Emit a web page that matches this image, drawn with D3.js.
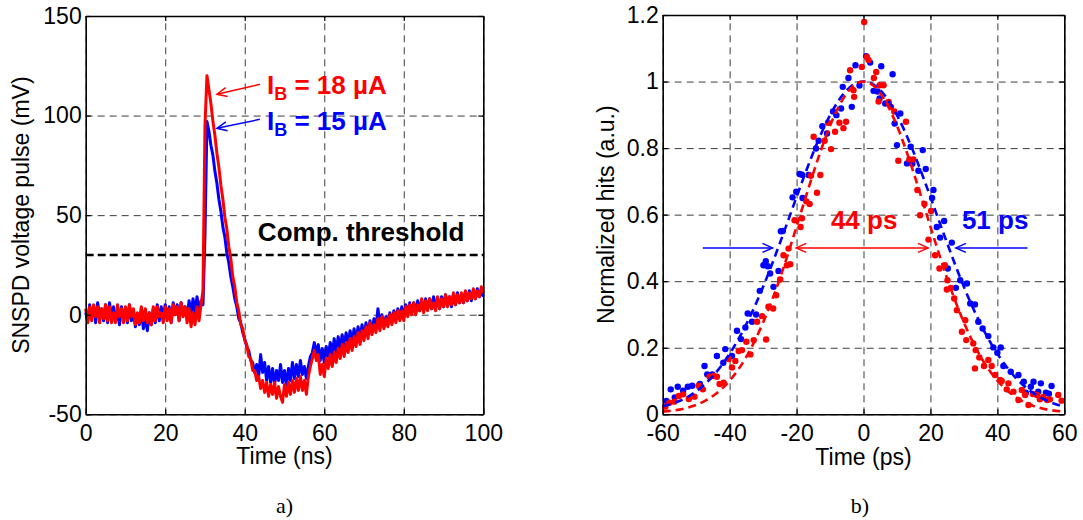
<!DOCTYPE html>
<html>
<head>
<meta charset="utf-8">
<script src="https://cdn.jsdelivr.net/npm/d3@7"></script>
<style>
  html, body { margin: 0; padding: 0; background: #fff; }
  svg { display: block; }
</style>
</head>
<body>
<svg id="chart" width="1083" height="520"></svg>
<script>
// ---------- panel a) : SNSPD voltage pulse, one sample every 0.5 ns from 0 ns ----------
const pulseTimeStep = 0.5;
const pulse15uA = [
  1, -3, 5, -1, 4, -4, 6, 0, 3, -3,
  5, -4, 6, -2, 4, -3, 1, -5, 4, -1,
  3, -4, 5, -3, 1, -6, 0, -5, 3, -7,
  -1, -8, 1, -5, 3, -4, 5, -3, 4, -1,
  5, -2, 4, -4, 6, 0, 5, -3, 6, 1,
  4, -1, 7, 0, 8, 1, 9, 2, 7, 5,
  40, 97, 92, 85, 80, 72, 66, 58, 52, 44,
  39, 31, 26, 19, 14, 8, 4, -2, -4, -9,
  -12, -16, -18, -23, -24, -29, -25, -31, -20, -29,
  -24, -33, -26, -34, -27, -35, -28, -33, -25, -34,
  -28, -36, -27, -33, -24, -32, -25, -31, -23, -30,
  -26, -32, -26, -21, -19, -14, -20, -15, -23, -17,
  -24, -16, -21, -14, -20, -12, -19, -11, -17, -10,
  -16, -9, -15, -8, -14, -7, -13, -6, -12, -5,
  -11, -4, -10, -3, -9, -2, -7, 3, -5, 0,
  -6, -1, -5, 1, -4, 2, -2, 3, -2, 4,
  -1, 5, 0, 6, 1, 6, 1, 7, 2, 7,
  2, 8, 3, 8, 3, 9, 4, 8, 3, 9,
  4, 10, 5, 9, 4, 10, 5, 11, 6, 10,
  6, 11, 7, 12, 7, 12, 8, 13, 9, 12,
  9
];
const pulse18uA = [
  3, -4, 4, -3, 5, -1, 4, -4, 3, -2,
  5, -3, 4, -4, 1, -4, 5, -1, 3, -4,
  4, -3, 5, -1, 3, -5, 1, -4, 4, -3,
  3, -4, 1, -5, 4, -3, 4, -1, 1, -4,
  4, -3, 3, -4, 5, 0, 4, -3, 6, -1,
  4, -4, 3, -6, 1, -5, 4, -3, 5, 12,
  95, 120, 113, 106, 97, 90, 81, 74, 65, 58,
  49, 43, 34, 28, 19, 14, 6, 2, -5, -7,
  -13, -15, -21, -22, -28, -28, -33, -31, -37, -33,
  -39, -34, -41, -35, -40, -34, -42, -36, -41, -44,
  -35, -41, -34, -40, -33, -39, -32, -38, -31, -38,
  -33, -40, -31, -26, -22, -18, -23, -20, -30, -25,
  -31, -22, -27, -20, -26, -19, -24, -17, -22, -15,
  -21, -14, -19, -12, -18, -11, -16, -9, -15, -8,
  -13, -6, -12, -4, -10, -5, -9, -2, -8, -1,
  -7, -2, -6, 0, -5, 1, -4, 2, -3, 2,
  -3, 4, -1, 5, 0, 6, 0, 5, 2, 8,
  1, 7, 2, 8, 3, 6, 2, 9, 3, 8,
  4, 10, 4, 9, 5, 11, 5, 10, 6, 11,
  6, 12, 7, 11, 8, 13, 8, 12, 9, 14,
  11
];
const thresholdMv = 30;
const pulseTicksX = [0, 20, 40, 60, 80, 100];
const pulseTicksY = [-50, 0, 50, 100, 150];

// ---------- panel b) : timing jitter histograms ----------
const hitsTime15uA = [
  -58.9, -57.6, -56.4, -55.5, -53.9, -52.5, -51.2, -48.9, -47.5, -46.7,
  -45.2, -43.8, -41.9, -41.3, -39.3, -37.8, -36.6, -35.3, -34.6, -33.3,
  -32.1, -31.0, -29.9, -29.2, -28.6, -27.9, -26.9, -25.4, -24.7, -24.1,
  -21.2, -20.1, -19.1, -18.4, -18.2, -16.4, -14.2, -13.4, -12.3, -10.9,
  -9.1, -8.1, -6.7, -6.2, -4.5, -3.5, -2.4, -1.2, 0.8, 2.0,
  3.0, 4.2, 4.8, 5.3, 6.5, 8.7, 9.3, 10.0, 11.0, 13.0,
  14.1, 14.6, 16.4, 17.7, 18.6, 20.5, 20.9, 21.9, 22.9, 24.1,
  25.2, 26.4, 27.6, 28.9, 30.9, 31.9, 33.3, 34.3, 35.6, 37.3,
  38.8, 40.0, 41.0, 41.8, 44.0, 46.3, 47.9, 48.5, 50.0, 50.8,
  52.2, 53.0, 54.5, 55.4, 56.2
];
const hits15uA = [
  0.040, 0.075, 0.051, 0.083, 0.071, 0.083, 0.086, 0.091, 0.145, 0.120,
  0.120, 0.175, 0.155, 0.196, 0.175, 0.251, 0.226, 0.261, 0.303, 0.278,
  0.300, 0.371, 0.448, 0.460, 0.445, 0.423, 0.383, 0.431, 0.550, 0.551,
  0.652, 0.669, 0.722, 0.720, 0.650, 0.719, 0.799, 0.822, 0.866, 0.844,
  0.910, 0.899, 0.919, 0.984, 1.011, 0.924, 1.049, 0.988, 1.076, 1.057,
  0.972, 0.970, 0.949, 1.046, 0.934, 1.022, 0.874, 0.809, 0.904, 0.754,
  0.804, 0.753, 0.732, 0.794, 0.737, 0.650, 0.674, 0.563, 0.531, 0.581,
  0.438, 0.516, 0.380, 0.403, 0.393, 0.333, 0.330, 0.278, 0.258, 0.235,
  0.201, 0.185, 0.201, 0.145, 0.128, 0.118, 0.098, 0.065, 0.083, 0.098,
  0.068, 0.093, 0.065, 0.062, 0.085
];
const hitsTime18uA = [
  -59.2, -58.0, -56.5, -55.2, -53.9, -52.2, -50.5, -49.3, -48.0, -46.0,
  -44.8, -43.8, -43.0, -41.8, -40.3, -39.3, -38.3, -37.3, -36.3, -35.0,
  -33.8, -32.8, -31.8, -30.3, -29.1, -28.4, -27.0, -26.1, -24.9, -23.9,
  -22.9, -22.4, -21.9, -20.6, -18.8, -18.4, -17.1, -16.1, -15.7, -14.9,
  -13.9, -12.9, -11.6, -10.6, -9.7, -8.5, -7.2, -6.0, -5.2, -4.0,
  -3.0, -2.8, -0.5, 0.2, 1.0, 1.5, 3.1, 3.8, 4.5, 4.8,
  6.0, 7.5, 8.2, 9.2, 10.4, 12.7, 13.7, 14.9, 16.1, 16.9,
  18.2, 19.4, 20.2, 21.4, 22.7, 24.3, 24.9, 25.1, 26.1, 27.1,
  27.9, 29.4, 30.4, 30.7, 32.8, 33.3, 33.5, 34.6, 36.0, 37.3,
  38.3, 39.3, 40.8, 41.3, 42.8, 43.3, 44.8, 46.3, 47.3, 48.3,
  49.3, 50.6, 51.8, 52.7, 53.7, 54.9, 55.7, 58.2, 59.2
];
const hits18uA = [
  0.023, 0.035, 0.038, 0.055, 0.060, 0.046, 0.053, 0.086, 0.075, 0.113,
  0.115, 0.113, 0.091, 0.095, 0.166, 0.141, 0.160, 0.190, 0.193, 0.218,
  0.180, 0.223, 0.278, 0.295, 0.225, 0.323, 0.318, 0.358, 0.405, 0.478,
  0.448, 0.498, 0.451, 0.583, 0.563, 0.589, 0.640, 0.632, 0.717, 0.834,
  0.666, 0.719, 0.822, 0.876, 0.797, 0.849, 0.876, 0.860, 0.879, 1.034,
  0.974, 0.954, 1.044, 1.179, 1.074, 1.065, 1.011, 1.029, 0.940, 0.989,
  0.989, 0.939, 0.924, 0.910, 0.762, 0.879, 0.766, 0.766, 0.674, 0.598,
  0.632, 0.525, 0.611, 0.478, 0.438, 0.448, 0.375, 0.403, 0.380, 0.348,
  0.313, 0.248, 0.283, 0.223, 0.213, 0.138, 0.193, 0.171, 0.145, 0.163,
  0.145, 0.118, 0.103, 0.100, 0.075, 0.093, 0.068, 0.043, 0.073, 0.058,
  0.028, 0.061, 0.058, 0.045, 0.052, 0.043, 0.045, 0.058, 0.041
];
// dashed fits, read every 5 ps
const fitTime = [-60, -55, -50, -45, -40, -35, -30, -25, -20, -15, -10, -5, 0,
                 5, 10, 15, 20, 25, 30, 35, 40, 45, 50, 55, 60];
const fit15uA = [0.024, 0.040, 0.069, 0.115, 0.182, 0.271, 0.383, 0.514, 0.653, 0.787, 0.899, 0.974, 1.0,
                 0.974, 0.899, 0.787, 0.653, 0.514, 0.383, 0.271, 0.182, 0.115, 0.069, 0.040, 0.022];
const fit18uA = [0.008, 0.014, 0.028, 0.055, 0.101, 0.173, 0.276, 0.408, 0.564, 0.725, 0.867, 0.965, 1.0,
                 0.965, 0.867, 0.725, 0.564, 0.408, 0.276, 0.173, 0.101, 0.055, 0.028, 0.014, 0.008];
const jitterTicksX = [-60, -40, -20, 0, 20, 40, 60];
const jitterTicksY = [0, 0.2, 0.4, 0.6, 0.8, 1, 1.2];

// ---------- drawing ----------
const FONT = '"Liberation Sans", Arial, Helvetica, sans-serif';
const SERIF = '"Liberation Serif", "Times New Roman", serif';
const BLUE = "#0000ff";
const RED = "#ff0000";
const svg = d3.select("#chart");

// dashed grid behind the data
function drawGrid(g, x, y, xTicks, yTicks) {
  const [x0, x1] = x.range();
  const [yb, yt] = y.range();

  const grid = g.append("g").attr("class", "grid");
  grid.append("g").attr("transform", `translate(0,${yb})`)
    .call(d3.axisBottom(x).tickValues(xTicks).tickSize(-(yb - yt)).tickFormat(""));
  grid.append("g").attr("transform", `translate(${x0},0)`)
    .call(d3.axisLeft(y).tickValues(yTicks).tickSize(-(x1 - x0)).tickFormat(""));
  grid.selectAll(".domain").remove();
  grid.selectAll("line")
    .attr("stroke", "#3c3c3c")
    .attr("stroke-width", 1)
    .attr("stroke-dasharray", "7,5");
}

// box with inward ticks on all four sides, labels bottom and left
function drawAxes(g, x, y, xTicks, yTicks) {
  const [x0, x1] = x.range();
  const [yb, yt] = y.range();
  const fmt = (d) => String(d);

  const axes = [
    g.append("g").attr("transform", `translate(0,${yb})`)
      .call(d3.axisBottom(x).tickValues(xTicks).tickSizeInner(-5).tickSizeOuter(0).tickPadding(10).tickFormat(fmt)),
    g.append("g").attr("transform", `translate(0,${yt})`)
      .call(d3.axisTop(x).tickValues(xTicks).tickSizeInner(-5).tickSizeOuter(0).tickFormat("")),
    g.append("g").attr("transform", `translate(${x0},0)`)
      .call(d3.axisLeft(y).tickValues(yTicks).tickSizeInner(-5).tickSizeOuter(0).tickPadding(4).tickFormat(fmt)),
    g.append("g").attr("transform", `translate(${x1},0)`)
      .call(d3.axisRight(y).tickValues(yTicks).tickSizeInner(-5).tickSizeOuter(0).tickFormat("")),
  ];
  axes.forEach((a) => {
    a.attr("font-family", FONT).attr("font-size", 23);
    a.select(".domain").attr("stroke", "#000").attr("stroke-width", 1.6);
    a.selectAll(".tick line").attr("stroke", "#000").attr("stroke-width", 1.2);
    a.selectAll(".tick text").attr("fill", "#000");
  });
}

function arrowHead(g, tx, ty, fx, fy, color) {
  const ang = Math.atan2(ty - fy, tx - fx);
  const L = 10, W = 4.5;
  const ux = Math.cos(ang), uy = Math.sin(ang);
  const p1 = [tx - ux * L - uy * W, ty - uy * L + ux * W];
  const p2 = [tx - ux * L + uy * W, ty - uy * L - ux * W];
  g.append("path")
    .attr("d", `M${p1[0]},${p1[1]}L${tx},${ty}L${p2[0]},${p2[1]}`)
    .attr("fill", "none").attr("stroke", color).attr("stroke-width", 1.5);
}

function arrow(g, fx, fy, tx, ty, color, both) {
  g.append("line")
    .attr("x1", fx).attr("y1", fy).attr("x2", tx).attr("y2", ty)
    .attr("stroke", color).attr("stroke-width", 1.5);
  arrowHead(g, tx, ty, fx, fy, color);
  if (both) arrowHead(g, fx, fy, tx, ty, color);
}

// ----- panel a -----
const xA = d3.scaleLinear().domain([0, 100]).range([85.7, 483.3]);
const yA = d3.scaleLinear().domain([-50, 150]).range([414.3, 16]);
const gA = svg.append("g");
drawGrid(gA, xA, yA, pulseTicksX, pulseTicksY);

gA.append("line")
  .attr("x1", xA(0)).attr("x2", xA(100))
  .attr("y1", yA(thresholdMv)).attr("y2", yA(thresholdMv))
  .attr("stroke", "#000").attr("stroke-width", 2.6).attr("stroke-dasharray", "8,4");

const pulseLine = d3.line()
  .x((d, i) => xA(i * pulseTimeStep))
  .y((d) => yA(d));

gA.append("path").datum(pulse15uA).attr("d", pulseLine)
  .attr("fill", "none").attr("stroke", BLUE).attr("stroke-width", 3).attr("stroke-linejoin", "round");
gA.append("path").datum(pulse18uA).attr("d", pulseLine)
  .attr("fill", "none").attr("stroke", RED).attr("stroke-width", 3).attr("stroke-linejoin", "round");

drawAxes(gA, xA, yA, pulseTicksX, pulseTicksY);

gA.append("text").attr("x", xA(43.3)).attr("y", yA(36.8))
  .attr("font-family", FONT).attr("font-size", 26).attr("font-weight", "bold")
  .text("Comp. threshold");

function biasLabel(tx, ty, value, color) {
  const t = gA.append("text").attr("x", xA(tx)).attr("y", yA(ty))
    .attr("font-family", FONT).attr("font-size", 26).attr("font-weight", "bold").attr("fill", color);
  t.append("tspan").text("I");
  t.append("tspan").attr("font-size", 18).attr("dy", 6).text("B");
  t.append("tspan").attr("dy", -6).text(` = ${value} \u00b5A`);
}
biasLabel(45.6, 111, 18, RED);
biasLabel(45.6, 93, 15, BLUE);
arrow(gA, xA(43.8), yA(115.7), xA(33.0), yA(110.7), RED, false);
arrow(gA, xA(43.8), yA(98.1), xA(33.0), yA(93.6), BLUE, false);

gA.append("text").attr("x", xA(50)).attr("y", 464)
  .attr("text-anchor", "middle").attr("font-family", FONT).attr("font-size", 23)
  .text("Time (ns)");
gA.append("text").attr("transform", `translate(29,${(yA(-50) + yA(150)) / 2}) rotate(-90)`)
  .attr("text-anchor", "middle").attr("font-family", FONT).attr("font-size", 23)
  .text("SNSPD voltage pulse (mV)");
gA.append("text").attr("x", xA(50)).attr("y", 513)
  .attr("text-anchor", "middle").attr("font-family", SERIF).attr("font-size", 22)
  .text("a)");

// ----- panel b -----
const xB = d3.scaleLinear().domain([-60, 60]).range([662.7, 1064.3]);
const yB = d3.scaleLinear().domain([0, 1.2]).range([414.3, 15]);
const gB = svg.append("g");
drawGrid(gB, xB, yB, jitterTicksX, jitterTicksY);

gB.append("g").selectAll("circle").data(hitsTime15uA).join("circle")
  .attr("cx", (d) => xB(d)).attr("cy", (d, i) => yB(hits15uA[i])).attr("r", 3.2).attr("fill", BLUE);
gB.append("g").selectAll("circle").data(hitsTime18uA).join("circle")
  .attr("cx", (d) => xB(d)).attr("cy", (d, i) => yB(hits18uA[i])).attr("r", 3.2).attr("fill", RED);

const fitLine = (vals) => d3.line().curve(d3.curveNatural)
  .x((d, i) => xB(fitTime[i])).y((d) => yB(d))(vals);
gB.append("path").attr("d", fitLine(fit15uA))
  .attr("fill", "none").attr("stroke", BLUE).attr("stroke-width", 2.6).attr("stroke-dasharray", "8,5");
gB.append("path").attr("d", fitLine(fit18uA))
  .attr("fill", "none").attr("stroke", RED).attr("stroke-width", 2.6).attr("stroke-dasharray", "8,5");

drawAxes(gB, xB, yB, jitterTicksX, jitterTicksY);

// FWHM markers
arrow(gB, xB(-48), yB(0.5), xB(-27.2), yB(0.5), BLUE, false);
arrow(gB, xB(-20.1), yB(0.5), xB(19.3), yB(0.5), RED, true);
arrow(gB, xB(49), yB(0.5), xB(27.6), yB(0.5), BLUE, false);
gB.append("text").attr("x", xB(0.2)).attr("y", yB(0.556))
  .attr("text-anchor", "middle").attr("font-family", FONT).attr("font-size", 26).attr("font-weight", "bold")
  .attr("fill", RED).text("44 ps");
gB.append("text").attr("x", xB(29.4)).attr("y", yB(0.556))
  .attr("font-family", FONT).attr("font-size", 26).attr("font-weight", "bold")
  .attr("fill", BLUE).text("51 ps");

gB.append("text").attr("x", xB(0)).attr("y", 465)
  .attr("text-anchor", "middle").attr("font-family", FONT).attr("font-size", 23)
  .text("Time (ps)");
gB.append("text").attr("transform", `translate(614,${(yB(0) + yB(1.2)) / 2}) rotate(-90)`)
  .attr("text-anchor", "middle").attr("font-family", FONT).attr("font-size", 23)
  .text("Normalized hits (a.u.)");
gB.append("text").attr("x", 860).attr("y", 513)
  .attr("text-anchor", "middle").attr("font-family", SERIF).attr("font-size", 22)
  .text("b)");
</script>
</body>
</html>
